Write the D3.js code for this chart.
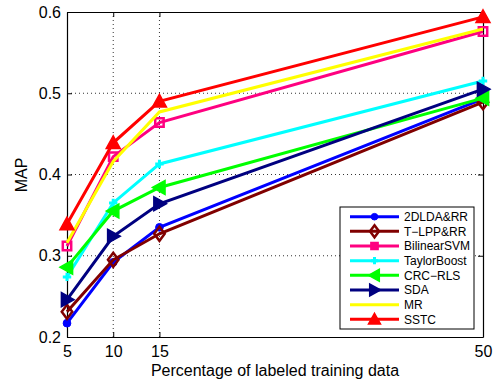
<!DOCTYPE html>
<html><head><meta charset="utf-8">
<script src="https://cdn.jsdelivr.net/npm/d3@7"></script>
<style>body{margin:0;background:#fff}svg{display:block}text{font-family:"Liberation Sans",Arial,sans-serif}</style>
</head><body><svg id="c" width="496" height="383"></svg>
<script>
const xValues = [5, 10, 15, 50];
const xTicks = [5, 10, 15, 50];
const yTicks = [0.2, 0.3, 0.4, 0.5, 0.6];
const seriesNames = ["2DLDA&RR","T\u2212LPP&RR","BilinearSVM","TaylorBoost","CRC\u2212RLS","SDA","MR","SSTC"];
const v2DLDA = [0.217, 0.292, 0.335, 0.493];
const vTLPP = [0.231, 0.295, 0.327, 0.489];
const vBilinear = [0.312, 0.422, 0.464, 0.576];
const vTaylor = [0.274, 0.365, 0.413, 0.515];
const vCRC = [0.286, 0.355, 0.384, 0.494];
const vSDA = [0.246, 0.324, 0.364, 0.505];
const vMR = [0.316, 0.416, 0.477, 0.579];
const vSSTC = [0.339, 0.439, 0.490, 0.594];
const seriesColors = ["#0000ff","#800000","#ff0080","#00ffff","#00ff00","#000080","#ffff00","#ff0000"];
const seriesMarkers = ["circle","diamond","square","plus","left","right","none","up"];
const allValues = [v2DLDA, vTLPP, vBilinear, vTaylor, vCRC, vSDA, vMR, vSSTC];

const svg = d3.select("#c");
const L = 67, R = 483, T = 12, B = 337;
const x = d3.scaleLinear().domain([5, 50]).range([L, R]);
const y = d3.scaleLinear().domain([0.2, 0.6]).range([B, T]);

// grid
const g = svg.append("g");
g.selectAll(".gx").data(xTicks.slice(1, -1)).enter().append("line")
  .attr("x1", d => x(d)).attr("x2", d => x(d)).attr("y1", T).attr("y2", B)
  .attr("stroke", "#333").attr("stroke-width", 1).attr("stroke-dasharray", "1,3");
g.selectAll(".gy").data(yTicks.slice(1, -1)).enter().append("line")
  .attr("y1", d => y(d)).attr("y2", d => y(d)).attr("x1", L).attr("x2", R)
  .attr("stroke", "#333").attr("stroke-width", 1).attr("stroke-dasharray", "1,3");

// axes
const fmt = d3.format(".1f");
const axB = svg.append("g").attr("transform", `translate(0,${B})`)
  .call(d3.axisBottom(x).tickValues(xTicks).tickSizeInner(-5).tickSizeOuter(0).tickPadding(8.5));
const axL = svg.append("g").attr("transform", `translate(${L},0)`)
  .call(d3.axisLeft(y).tickValues(yTicks).tickFormat(fmt).tickSizeInner(-5).tickSizeOuter(0).tickPadding(6));
const axT = svg.append("g").attr("transform", `translate(0,${T})`)
  .call(d3.axisTop(x).tickValues(xTicks).tickSizeInner(-5).tickSizeOuter(0).tickFormat(""));
const axR = svg.append("g").attr("transform", `translate(${R},0)`)
  .call(d3.axisRight(y).tickValues(yTicks).tickSizeInner(-5).tickSizeOuter(0).tickFormat(""));
[axB, axL, axT, axR].forEach(a => {
  a.select(".domain").attr("stroke", "#000").attr("stroke-width", 1.2);
  a.selectAll(".tick line").attr("stroke", "#000");
  a.selectAll("text").attr("font-size", 16).attr("fill", "#000").style("font-family", '"Liberation Sans",Arial,sans-serif');
});

function marker(sel, type, color, s, legend) {
  if (type === "none") return;
  let p, hollow = false;
  if (type === "circle") { sel.append("circle").attr("r", s * 0.55).attr("fill", color).attr("stroke", color); return; }
  if (type === "diamond") { p = [[0,-s],[s*0.75,0],[0,s],[-s*0.75,0]]; hollow = true; }
  if (type === "square") { p = [[-s*0.6,-s*0.6],[s*0.6,-s*0.6],[s*0.6,s*0.6],[-s*0.6,s*0.6]]; hollow = !legend; }
  if (type === "left") p = [[-s,0],[s*0.8,-s],[s*0.8,s]];
  if (type === "right") p = [[s,0],[-s*0.8,-s],[-s*0.8,s]];
  if (type === "up") p = [[0,-s],[s,s*0.8],[-s,s*0.8]];
  if (type === "plus") {
    sel.append("path").attr("d", `M${-s*0.6},0H${s*0.6}M0,${-s*0.6}V${s*0.6}`).attr("stroke", color).attr("stroke-width", 3);
    return;
  }
  sel.append("path").attr("d", "M" + p.join("L") + "Z")
    .attr("fill", hollow ? "none" : color).attr("stroke", color).attr("stroke-width", hollow ? 2.5 : 1.5);
}

const line = d3.line().x((d, i) => x(xValues[i])).y(d => y(d));
allValues.forEach((vals, k) => {
  const c = seriesColors[k];
  svg.append("path").datum(vals).attr("d", line).attr("fill", "none").attr("stroke", c).attr("stroke-width", 3);
  vals.forEach((v, i) => {
    const m = svg.append("g").attr("transform", `translate(${x(xValues[i])},${y(v)})`);
    marker(m, seriesMarkers[k], c, 7, false);
  });
});

// labels
svg.append("text").attr("x", (L + R) / 2).attr("y", 375.5).attr("text-anchor", "middle")
  .attr("font-size", 16).text("Percentage of labeled training data");
svg.append("text").attr("transform", `translate(27,175) rotate(-90)`).attr("text-anchor", "middle")
  .attr("font-size", 16).text("MAP");

// legend
const lg = svg.append("g");
lg.append("rect").attr("x", 340).attr("y", 207).attr("width", 134).attr("height", 122)
  .attr("fill", "#fff").attr("stroke", "#000").attr("stroke-width", 1);
seriesNames.forEach((n, k) => {
  const yy = 216.7 + k * 14.66;
  const c = seriesColors[k];
  lg.append("line").attr("x1", 350).attr("x2", 399).attr("y1", yy).attr("y2", yy).attr("stroke", c).attr("stroke-width", 3);
  const m = lg.append("g").attr("transform", `translate(374.5,${yy})`);
  marker(m, seriesMarkers[k], c, 6, true);
  lg.append("text").attr("x", 404).attr("y", yy + 4.3).attr("font-size", 12).text(n);
});
</script></body></html>
